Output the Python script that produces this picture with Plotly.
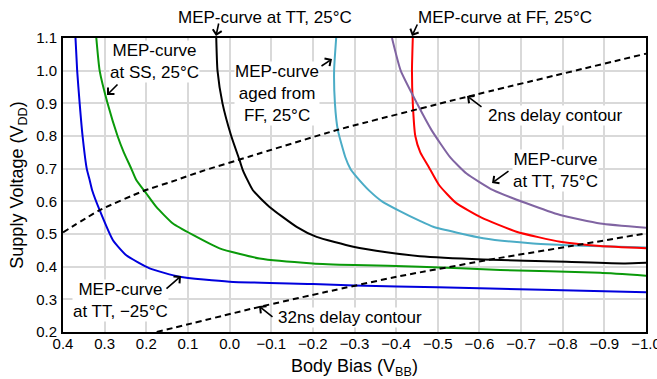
import plotly.graph_objects as go

# ---------------- data ----------------
tt_m25_x = [0.37, 0.366, 0.36, 0.353, 0.343, 0.336, 0.33, 0.312, 0.28, 0.248, 0.192, 0.12, 0.0, -0.2, -0.3, -0.5, -0.75, -1.0]
tt_m25_y = [1.1, 1.0, 0.9, 0.8, 0.7, 0.665, 0.634, 0.573, 0.481, 0.435, 0.395, 0.369, 0.354, 0.347, 0.342, 0.337, 0.329, 0.322]

ss_25_x = [0.32, 0.312, 0.293, 0.269, 0.254, 0.236, 0.224, 0.2, 0.176, 0.136, 0.088, 0.024, -0.072, -0.2, -0.3, -0.457, -0.65, -0.89, -1.0]
ss_25_y = [1.1, 1.0, 0.9, 0.8, 0.75, 0.7, 0.665, 0.624, 0.583, 0.532, 0.497, 0.456, 0.425, 0.41, 0.405, 0.40, 0.39, 0.381, 0.372]

tt_25_x = [0.032, 0.029, 0.017, -0.004, -0.024, -0.032, -0.056, -0.096, -0.161, -0.209, -0.297, -0.377, -0.457, -0.609, -0.809, -0.95, -1.0]
tt_25_y = [1.1, 1.0, 0.9, 0.8, 0.726, 0.695, 0.634, 0.583, 0.522, 0.491, 0.461, 0.444, 0.432, 0.422, 0.415, 0.41, 0.412]

aged_ff_x = [-0.256, -0.251, -0.253, -0.26, -0.278, -0.29, -0.305, -0.336, -0.366, -0.409, -0.457, -0.489, -0.609, -0.729, -0.849, -1.0]
aged_ff_y = [1.1, 1.0, 0.9, 0.818, 0.735, 0.7, 0.675, 0.632, 0.6, 0.57, 0.54, 0.522, 0.487, 0.471, 0.464, 0.459]

ff_25_x = [-0.44, -0.438, -0.44, -0.446, -0.458, -0.478, -0.503, -0.543, -0.605, -0.689, -0.794, -0.89, -1.0]
ff_25_y = [1.1, 1.0, 0.9, 0.8, 0.75, 0.706, 0.65, 0.596, 0.55, 0.507, 0.476, 0.463, 0.456]

tt_75_x = [-0.39, -0.411, -0.45, -0.485, -0.529, -0.569, -0.633, -0.713, -0.794, -0.89, -1.0]
tt_75_y = [1.1, 1.0, 0.9, 0.818, 0.736, 0.685, 0.634, 0.594, 0.558, 0.532, 0.519]

delay2_x = [0.4, 0.312, 0.208, 0.128, 0.072, -0.05, -0.257, -0.57, -1.0]
delay2_y = [0.505, 0.573, 0.631, 0.665, 0.69, 0.738, 0.818, 0.92, 1.052]

delay32_x = [0.175, -0.072, -0.233, -0.409, -0.641, -0.834, -1.0]
delay32_y = [0.2, 0.277, 0.323, 0.371, 0.425, 0.466, 0.502]

x_ticks = [0.4, 0.3, 0.2, 0.1, 0.0, -0.1, -0.2, -0.3, -0.4, -0.5, -0.6, -0.7, -0.8, -0.9, -1.0]
x_tick_text = ["0.4", "0.3", "0.2", "0.1", "0.0", "\u22120.1", "\u22120.2", "\u22120.3", "\u22120.4",
               "\u22120.5", "\u22120.6", "\u22120.7", "\u22120.8", "\u22120.9", "\u22121.0"]
y_ticks = [0.2, 0.3, 0.4, 0.5, 0.6, 0.7, 0.8, 0.9, 1.0, 1.1]
y_tick_text = ["0.2", "0.3", "0.4", "0.5", "0.6", "0.7", "0.8", "0.9", "1.0", "1.1"]

# ---------------- figure ----------------
FONT = "Liberation Sans, Arial, Helvetica, sans-serif"
W, H = 657, 379
ML, MR, MT, MB = 63, 11, 38, 47
PW, PH = W - ML - MR, H - MT - MB


def paper(px, py):
    return (px - ML) / PW, (H - MB - py) / PH


fig = go.Figure()

series = [
    (tt_m25_x, tt_m25_y, "#0000dd", "solid"),
    (ss_25_x, ss_25_y, "#0a9a0a", "solid"),
    (tt_25_x, tt_25_y, "#000000", "solid"),
    (aged_ff_x, aged_ff_y, "#4bacc6", "solid"),
    (ff_25_x, ff_25_y, "#ff0000", "solid"),
    (tt_75_x, tt_75_y, "#8064a2", "solid"),
    (delay2_x, delay2_y, "#000000", "6px,4px"),
    (delay32_x, delay32_y, "#000000", "6px,4px"),
]
for xs, ys, col, dash in series:
    fig.add_trace(go.Scatter(x=xs, y=ys, mode="lines",
                             line=dict(color=col, width=2, dash=dash, shape="spline", smoothing=0.5),
                             showlegend=False, hoverinfo="skip"))

# text labels (center px, center py, text)
labels = [
    (265, 18, "MEP-curve at TT, 25°C"),
    (505, 18, "MEP-curve at FF, 25°C"),
    (154, 62, "MEP-curve<br>at SS, 25°C"),
    (277, 93, "MEP-curve<br>aged from<br>FF, 25°C"),
    (555, 116, "2ns delay contour"),
    (555, 170, "MEP-curve<br>at TT, 75°C"),
    (120, 300, "MEP-curve<br>at TT, \u221225°C"),
    (350, 317, "32ns delay contour"),
]
for px, py, txt in labels:
    xp, yp = paper(px, py)
    fig.add_annotation(x=xp, y=yp, xref="paper", yref="paper", text=txt, showarrow=False,
                       xanchor="center", yanchor="middle", align="center",
                       font=dict(family=FONT, size=17, color="#000"),
                       bgcolor="white", borderpad=0)

# arrows (head px, head py, tail px, tail py)
arrows = [
    (216, 36, 219, 22),
    (412, 36, 418, 23),
    (107, 95, 119, 83),
    (332, 59, 320, 67),
    (467, 96, 483, 108),
    (492, 183, 510, 170),
    (181, 276, 165, 290),
    (259, 306, 274, 318),
]
for hx, hy, tx, ty in arrows:
    xp, yp = paper(hx, hy)
    fig.add_annotation(x=xp, y=yp, xref="paper", yref="paper", text="", showarrow=True,
                       ax=tx - hx, ay=ty - hy, arrowhead=4, arrowsize=1.1, arrowwidth=1.6,
                       arrowcolor="black", standoff=0)

axis_common = dict(showgrid=True, gridcolor="#d9d9d9", gridwidth=1.5, zeroline=False,
                   showline=True, linecolor="black", linewidth=2, mirror=True,
                   ticks="", ticklabeloverflow="allow", automargin=False,
                   tickfont=dict(family=FONT, size=15, color="#000"))

fig.update_layout(
    width=W, height=H,
    margin=dict(l=ML, r=MR, t=MT, b=MB),
    paper_bgcolor="white", plot_bgcolor="white",
    font=dict(family=FONT, color="#000"),
    xaxis=dict(range=[0.4, -1.0], tickvals=x_ticks, ticktext=x_tick_text, ticklabelstandoff=-3,
               title=dict(text="Body Bias (V<sub>BB</sub>)", font=dict(family=FONT, size=18), standoff=20),
               **axis_common),
    yaxis=dict(range=[0.2, 1.1], tickvals=y_ticks, ticktext=y_tick_text, ticklabelstandoff=1,
               title=dict(text="Supply Voltage (V<sub>DD</sub>)", font=dict(family=FONT, size=18), standoff=8),
               **axis_common),
)

fig.write_html("out.html")
